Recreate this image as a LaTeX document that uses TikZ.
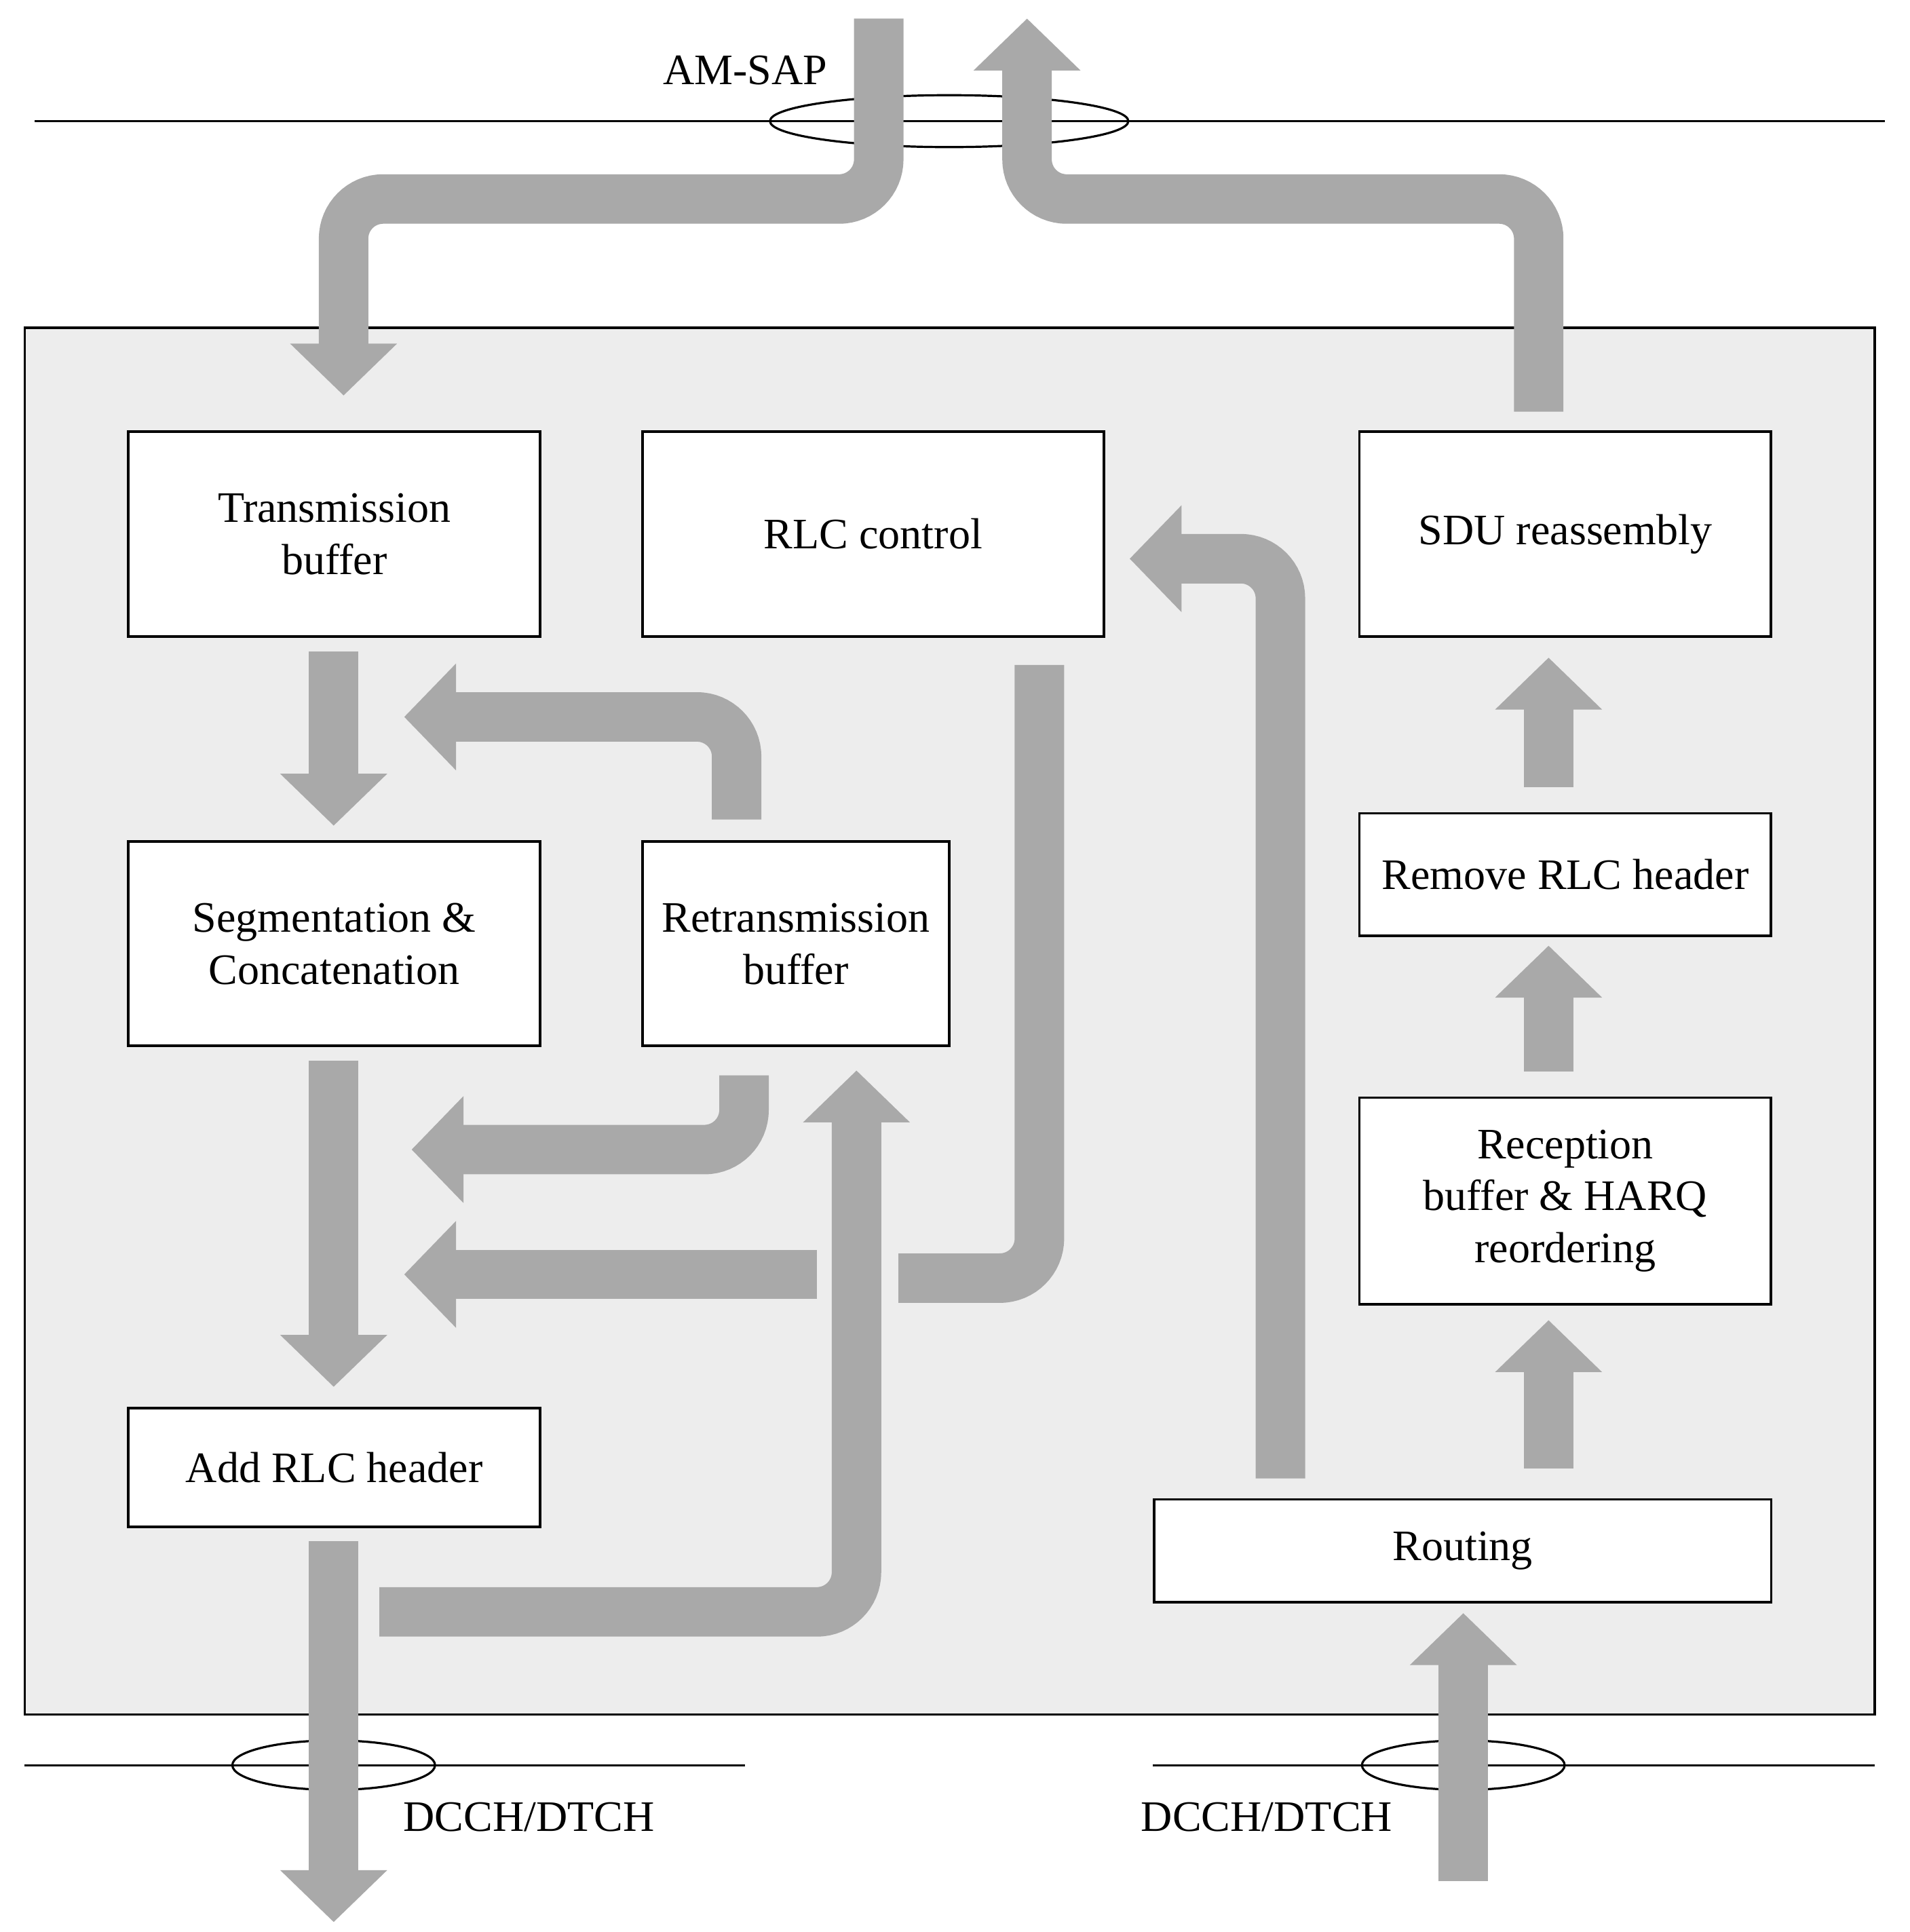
\documentclass[tikz,border=0pt]{standalone}
\usepackage{fontspec}
\setmainfont{Liberation Serif}
\usetikzlibrary{arrows.meta}
\definecolor{band}{HTML}{A9A9A9}
\definecolor{bg}{HTML}{EDEDED}
\begin{document}
\begin{tikzpicture}[x=0.01cm,y=-0.01cm,
  blk/.style={draw=black,fill=white,line width=0.6pt,align=center,font=\fontsize{10}{12}\selectfont},
  lbl/.style={font=\fontsize{10}{12}\selectfont},
  flow/.style={draw=band,line width=0.4cm,rounded corners=0.32cm,-{Triangle[width=0.84cm,length=0.42cm]}},
  flown/.style={draw=band,line width=0.4cm,rounded corners=0.32cm}]
\useasboundingbox (0,0) rectangle (1545,1563);
\fill[white] (0,0) rectangle (1545,1563);
\draw[fill=bg,line width=0.6pt] (20,265) rectangle (1517,1387);
% SAP lines
\draw[line width=0.5pt] (28,98) -- (1525,98);
\draw[line width=0.5pt] (768,98) ellipse [x radius=145, y radius=21];
\draw[line width=0.5pt] (20,1428) -- (603,1428);
\draw[line width=0.5pt] (270,1428) ellipse [x radius=82, y radius=20];
\draw[line width=0.5pt] (933,1428) -- (1517,1428);
\draw[line width=0.5pt] (1184,1428) ellipse [x radius=82, y radius=20];
\node[lbl] (amsap) at (603,57) {AM-SAP};
\node[lbl] (dl) at (428,1470) {DCCH/DTCH};
\node[lbl] (dr) at (1025,1470) {DCCH/DTCH};
% boxes
\node[blk,minimum width=3.33cm,minimum height=1.66cm] (tx) at (270.5,432) {Transmission\\buffer};
\node[blk,minimum width=3.73cm,minimum height=1.66cm] (ctl) at (706.5,432) {RLC control};
\node[blk,minimum width=3.33cm,minimum height=1.66cm] (sdu) at (1266.5,432) {SDU reassembly};
\node[blk,minimum width=3.33cm,minimum height=1.65cm] (seg) at (270.5,763.5) {Segmentation \&\\Concatenation};
\node[blk,minimum width=2.48cm,minimum height=1.65cm] (rtx) at (644,763.5) {Retransmission\\buffer};
\node[blk,minimum width=3.33cm,minimum height=0.99cm] (rem) at (1266.5,707.5) {Remove RLC header};
\node[blk,minimum width=3.33cm,minimum height=1.67cm] (rcv) at (1266.5,971.5) {Reception\\buffer \& HARQ\\reordering};
\node[blk,minimum width=3.33cm,minimum height=0.96cm] (add) at (270.5,1187) {Add RLC header};
\node[blk,minimum width=4.99cm,minimum height=0.83cm] (rt) at (1183.5,1254.5) {Routing};
% flows
\coordinate (a0) at (711,15); \coordinate (a1) at (278,320);
\draw[flow] (a0) -- (711,161) -- (278,161) -- (a1);
\coordinate (b0) at (1245,333); \coordinate (b1) at (831,15);
\draw[flow] (b0) -- (1245,161) -- (831,161) -- (b1);
\draw[flow] (270,527) -- (270,668);
\draw[flow] (596,663) -- (596,580) -- (327,580);
\draw[flow] (270,858) -- (270,1122);
\draw[flow] (602,870) -- (602,930) -- (333,930);
\draw[flow] (661,1031) -- (327,1031);
\draw[flown] (841,538) -- (841,1034) -- (727,1034);
\draw[flow] (270,1247) -- (270,1555);
\draw[flow] (307,1304) -- (693,1304) -- (693,866);
\draw[flow] (1036,1196) -- (1036,452) -- (914,452);
\draw[flow] (1253,637) -- (1253,532);
\draw[flow] (1253,867) -- (1253,765);
\draw[flow] (1253,1188) -- (1253,1068);
\draw[flow] (1184,1522) -- (1184,1305);
\end{tikzpicture}
\end{document}
